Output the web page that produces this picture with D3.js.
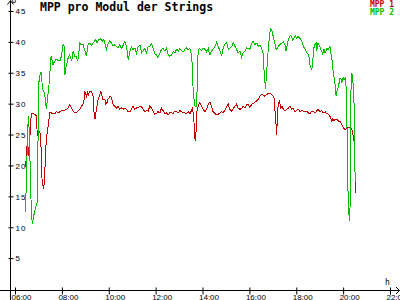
<!DOCTYPE html>
<meta charset="utf-8">

<script src="https://d3js.org/d3.v7.min.js"></script>

<style type="text/css">
body { margin: 0; background: #fff; }
svg { display: block; font-family: "DejaVu Sans Mono", monospace; }
.axis text { font-size: 8px; fill: #000; }
.line { fill: none; stroke-width: 1; shape-rendering: crispEdges; }
</style>

<body></body>

<script>

// Data: time of day and voltage per MPP tracker

var mpp1Times = ["06:27","06:29","06:31","06:33","06:36","06:38","06:39","06:42","06:46","06:50","06:55","06:57","07:01","07:03","07:06","07:08","07:10","07:13","07:14","07:17","07:20","07:25","07:29","07:33","07:37","07:42","07:46","07:50","07:55","07:59","08:03","08:07","08:12","08:16","08:20","08:25","08:29","08:33","08:37","08:41","08:46","08:50","08:54","08:57","08:59","09:03","09:06","09:08","09:11","09:16","09:20","09:22","09:25","09:29","09:33","09:37","09:40","09:43","09:45","09:50","09:52","09:56","09:58","10:03","10:07","10:11","10:15","10:20","10:24","10:28","10:33","10:37","10:41","10:45","10:50","10:54","10:58","11:02","11:07","11:11","11:15","11:20","11:24","11:28","11:32","11:37","11:41","11:45","11:50","11:54","11:58","12:02","12:06","12:11","12:15","12:19","12:24","12:28","12:32","12:36","12:41","12:45","12:49","12:54","12:58","13:02","13:06","13:11","13:15","13:19","13:23","13:28","13:32","13:35","13:36","13:38","13:40","13:41","13:43","13:45","13:49","13:53","13:58","14:02","14:06","14:10","14:15","14:19","14:23","14:27","14:32","14:36","14:40","14:45","14:49","14:53","14:57","15:02","15:06","15:10","15:15","15:19","15:23","15:27","15:31","15:36","15:40","15:44","15:49","15:53","15:57","16:01","16:06","16:10","16:14","16:19","16:23","16:27","16:31","16:36","16:40","16:44","16:48","16:53","16:57","17:01","17:04","17:05","17:08","17:09","17:11","17:12","17:14","17:17","17:18","17:20","17:23","17:27","17:31","17:36","17:40","17:44","17:48","17:52","17:57","18:01","18:05","18:10","18:14","18:18","18:23","18:27","18:31","18:35","18:40","18:44","18:48","18:52","18:56","19:01","19:05","19:09","19:14","19:18","19:22","19:26","19:31","19:33","19:37","19:39","19:44","19:48","19:52","19:56","20:01","20:05","20:08","20:11","20:13","20:18","20:21","20:24","20:26","20:28","20:30","20:31"];
var mpp1Values = [20.7,19.1,23.7,23.2,21.5,23.7,26.4,28.3,28.5,28.3,28.0,24.8,25.5,25.5,24.8,18.8,17.2,16.4,16.6,19.9,24.2,26.4,28.5,28.5,28.3,28.4,28.7,28.5,28.7,28.9,28.8,28.9,29.1,29.3,29.8,29.3,28.8,28.5,28.5,28.8,29.1,29.6,29.9,30.7,32.0,31.2,31.8,31.5,32.0,32.0,31.2,28.8,27.5,29.3,30.7,31.5,32.0,31.2,30.7,30.7,29.9,30.2,30.7,31.2,31.0,29.9,29.6,29.3,29.6,29.1,29.3,29.1,29.3,29.1,28.7,28.7,29.1,29.6,29.1,29.3,29.3,29.6,29.5,29.1,28.7,28.9,28.8,29.6,29.3,28.7,28.3,28.4,28.7,28.5,29.3,28.9,28.3,28.5,28.2,28.5,28.5,28.4,28.8,28.7,28.5,28.9,28.7,28.5,28.5,28.4,28.7,28.4,28.9,29.5,28.3,27.2,25.5,24.0,24.5,28.5,29.6,30.2,29.6,29.1,28.7,29.1,29.9,30.3,29.6,28.7,28.4,28.2,28.3,28.5,28.7,28.5,28.9,29.6,29.9,29.1,28.8,29.2,29.6,29.9,29.3,29.1,29.2,29.6,29.3,29.9,29.8,29.4,29.9,30.0,30.2,30.5,30.7,31.2,31.5,31.4,31.2,31.5,31.6,31.6,31.5,31.2,30.7,29.3,27.2,25.0,26.5,28.5,29.9,30.4,30.2,29.3,29.6,29.1,28.8,29.1,29.3,29.6,29.1,29.2,28.7,28.9,29.1,28.7,28.9,28.8,28.7,28.8,28.5,28.4,28.8,28.7,28.5,28.8,29.1,28.7,28.9,28.5,28.7,28.4,28.3,28.0,27.2,27.5,27.2,27.5,27.5,27.2,27.1,26.7,26.1,25.7,26.0,26.1,26.1,26.1,26.0,25.6,24.5,24.0,21.5,15.6];

var mpp2Times = ["06:27","06:30","06:33","06:35","06:38","06:40","06:43","06:45","06:47","06:50","06:54","06:57","06:59","07:01","07:05","07:08","07:10","07:14","07:18","07:20","07:23","07:26","07:29","07:31","07:33","07:37","07:42","07:46","07:50","07:55","07:59","08:03","08:06","08:08","08:10","08:13","08:16","08:20","08:25","08:29","08:33","08:37","08:40","08:42","08:46","08:50","08:54","08:59","09:03","09:07","09:11","09:16","09:20","09:27","09:30","09:35","09:39","09:44","09:47","09:52","09:54","09:58","10:03","10:07","10:11","10:15","10:20","10:24","10:28","10:33","10:37","10:41","10:45","10:48","10:50","10:52","10:54","10:58","11:02","11:07","11:11","11:15","11:20","11:24","11:28","11:32","11:37","11:41","11:45","11:50","11:54","11:58","12:02","12:06","12:11","12:15","12:19","12:24","12:28","12:32","12:36","12:41","12:45","12:49","12:54","12:58","13:02","13:06","13:11","13:15","13:19","13:23","13:28","13:30","13:33","13:35","13:36","13:39","13:41","13:44","13:46","13:47","13:50","13:53","13:58","14:02","14:06","14:10","14:15","14:17","14:19","14:23","14:27","14:32","14:36","14:40","14:45","14:49","14:53","14:57","15:02","15:06","15:10","15:15","15:19","15:23","15:27","15:31","15:36","15:40","15:44","15:49","15:53","15:57","16:01","16:06","16:10","16:14","16:19","16:23","16:27","16:31","16:36","16:37","16:39","16:41","16:42","16:44","16:46","16:48","16:51","16:53","16:55","16:58","17:01","17:04","17:05","17:08","17:10","17:14","17:18","17:23","17:27","17:31","17:34","17:37","17:40","17:44","17:48","17:51","17:52","17:57","18:01","18:05","18:10","18:14","18:17","18:18","18:23","18:27","18:31","18:33","18:35","18:37","18:40","18:42","18:44","18:45","18:48","18:51","18:52","18:55","18:56","19:01","19:05","19:08","19:11","19:14","19:18","19:22","19:26","19:29","19:32","19:34","19:37","19:39","19:42","19:44","19:47","19:50","19:52","19:55","19:57","20:00","20:02","20:05","20:08","20:09","20:11","20:13","20:16","20:18","20:19","20:21","20:23","20:25","20:26","20:28","20:30","20:31"];
var mpp2Values = [12.5,20.0,26.5,28.0,22.0,16.0,11.5,10.6,11.5,12.5,13.5,14.0,24.5,33.4,35.0,35.0,32.3,32.0,30.7,29.1,30.7,32.3,34.5,37.2,37.7,36.3,36.9,37.2,37.0,36.9,37.7,39.6,39.3,34.7,35.8,36.6,37.4,37.9,36.9,38.5,37.7,37.7,36.9,37.4,39.8,39.5,39.6,38.5,37.7,39.6,39.8,39.5,39.8,40.4,39.8,40.4,40.5,40.1,40.4,39.4,38.8,39.6,40.2,39.8,39.3,39.5,39.3,39.0,39.5,38.9,39.5,40.0,39.3,38.2,37.0,37.7,38.5,39.2,38.8,39.0,38.2,39.2,39.5,38.2,38.6,38.9,38.2,39.3,39.3,39.7,38.8,38.1,37.9,37.5,38.2,38.8,38.9,38.5,39.0,37.9,37.7,37.9,38.5,38.2,38.8,38.5,38.9,38.6,38.4,38.8,39.0,38.8,38.9,38.5,36.9,34.7,32.0,30.4,29.5,29.6,32.0,36.9,38.8,38.9,38.6,39.0,38.8,38.4,39.0,38.2,37.9,38.5,38.8,39.3,39.9,39.3,38.5,37.7,39.0,39.6,39.9,38.8,39.0,39.3,39.9,39.3,38.8,38.2,38.5,37.5,38.2,38.5,39.0,38.9,38.8,39.8,40.1,39.6,39.8,39.3,39.5,39.0,38.0,35.8,34.5,32.3,33.1,34.7,36.9,38.5,40.7,41.7,42.2,41.7,40.9,40.1,39.8,38.9,38.8,39.3,39.6,39.8,40.0,39.5,38.5,39.6,40.4,41.0,40.9,40.3,40.4,41.0,40.6,40.9,40.5,40.1,39.6,39.3,38.8,38.2,38.0,37.4,36.3,35.8,35.5,36.9,38.0,39.0,39.6,39.8,38.5,39.6,39.8,39.1,38.5,38.0,38.8,38.2,38.9,38.8,39.3,38.0,36.9,35.5,34.2,33.4,31.2,32.0,32.6,33.4,34.2,33.9,33.4,34.2,33.9,34.2,32.6,30.7,20.7,14.3,11.0,13.7,28.3,35.0,34.7,33.4,33.1,29.9,20.2,17.3];

var hourTicks = ["06:00","08:00","10:00","12:00","14:00","16:00","18:00","20:00","22:00"];
var voltTicks = [5, 10, 15, 20, 25, 30, 35, 40, 45];

var seriesNames = ["MPP 1", "MPP 2"];
var seriesColors = ["#c80000", "#00c000"];

//Define svg here:

var width = 400,
    height = 300;

var svg = d3.select("body").append("svg")
    .attr("width", width)
    .attr("height", height);

var parseTime = d3.timeParse("%H:%M");

//Define xscale, yscale, xaxis, and yaxis here:

var xScale = d3.scaleTime()
  .domain([parseTime(hourTicks[0]), parseTime(hourTicks[hourTicks.length - 1])])
  .range([15, 390]);

var yScale = d3.scaleLinear()
  .domain([0, 45])
  .range([289, 11]);

var xAxis = d3.axisBottom(xScale)
  .tickValues(hourTicks.map(parseTime))
  .tickFormat(d3.timeFormat("%H:%M"));

var yAxis = d3.axisLeft(yScale)
  .tickValues(voltTicks);

var xAxisGroup = svg.append("g")
  .attr("class", "x axis")
  .attr("transform", "translate(0,290.5)")
  .call(xAxis);

xAxisGroup.select(".domain").remove();
xAxisGroup.selectAll(".tick line").attr("y1", -3).attr("y2", 4).attr("stroke", "#000");
xAxisGroup.selectAll(".tick text")
  .attr("x", -4)
  .attr("y", 9.5)
  .attr("dy", null)
  .style("text-anchor", "start");

var yAxisGroup = svg.append("g")
  .attr("class", "y axis")
  .attr("transform", "translate(10.5,0)")
  .call(yAxis);

yAxisGroup.select(".domain").remove();
yAxisGroup.selectAll(".tick line").attr("x1", -2).attr("x2", 3).attr("stroke", "#000");
yAxisGroup.selectAll(".tick text")
  .attr("x", 5)
  .attr("dy", "0.35em")
  .style("letter-spacing", "1px")
  .style("text-anchor", "start");

// axis lines with arrow heads
svg.append("path")
  .attr("d", "M10.5,300V1 M7.5,4.5L10.5,0.5L13.5,4.5")
  .attr("fill", "none")
  .attr("stroke", "#000");

svg.append("path")
  .attr("d", "M0,290.5H399.5 M396,287L399.5,290.5L396,294")
  .attr("fill", "none")
  .attr("stroke", "#000");

svg.append("text")
  .attr("x", 11.5)
  .attr("y", 3)
  .style("font-size", "8px")
  .text("U");

svg.append("text")
  .attr("x", 385)
  .attr("y", 284.5)
  .style("font-size", "8px")
  .text("h");

// Create lines here:

var line = d3.line()
  .x(d => xScale(d.t))
  .y(d => yScale(d.v));

var series = [
  mpp1Times.map((t, i) => ({t: parseTime(t), v: mpp1Values[i]})),
  mpp2Times.map((t, i) => ({t: parseTime(t), v: mpp2Values[i]}))
];

svg.selectAll(".line")
  .data(series)
  .enter().append("path")
  .attr("class", "line")
  .attr("stroke", (d, i) => seriesColors[i])
  .attr("d", line);

// title and legend
svg.append("text")
  .attr("x", 40)
  .attr("y", 11)
  .style("font-size", "11.5px")
  .style("font-weight", "bold")
  .text("MPP pro Modul der Strings");

svg.selectAll(".legend")
  .data(seriesNames)
  .enter().append("text")
  .attr("class", "legend")
  .attr("x", 394)
  .attr("y", (d, i) => 7 + i * 7.5)
  .attr("fill", (d, i) => seriesColors[i])
  .style("font-size", "8px")
  .style("font-weight", "bold")
  .style("text-anchor", "end")
  .text(d => d);

</script>
